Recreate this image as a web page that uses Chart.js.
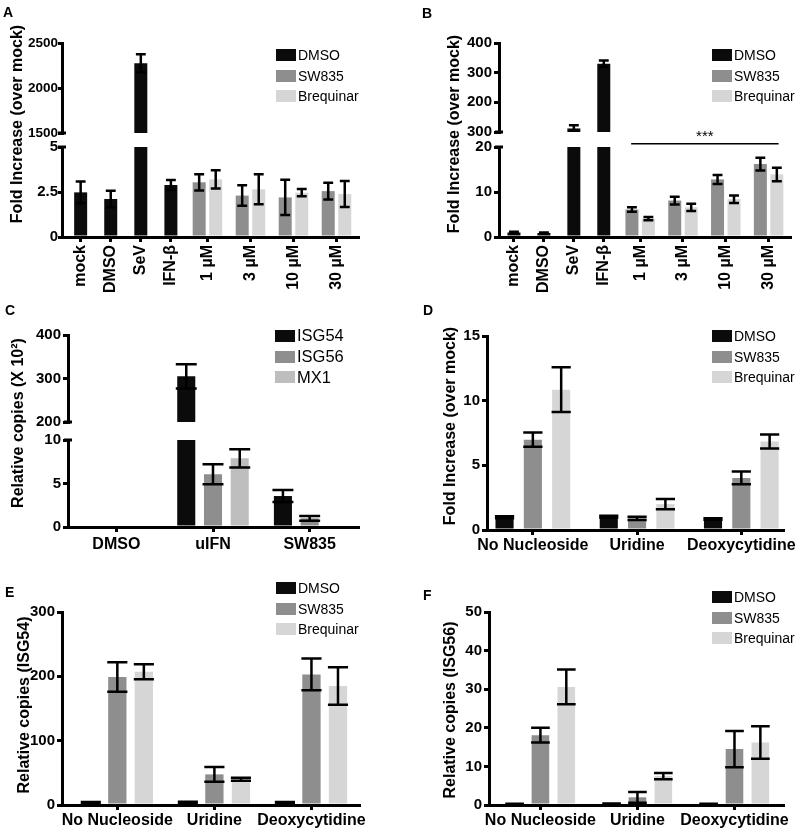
<!DOCTYPE html>
<html>
<head>
<meta charset="utf-8">
<title>Fold increase panels</title>
<script src="https://cdn.jsdelivr.net/npm/chart.js@4.4.1/dist/chart.umd.min.js"></script>
<style>
  html, body { margin: 0; padding: 0; background: #fff; }
  #fig { position: relative; width: 800px; height: 832px; overflow: hidden; background: #fff;
         font-family: 'Liberation Sans', Arial, Helvetica, sans-serif; color: #000; }
  .letter { position: absolute; font-weight: bold; font-size: 14px; line-height: 16px; }
  .ytitle { position: absolute; font-weight: bold; white-space: nowrap; line-height: 1;
            transform: translate(-50%, -50%) rotate(-90deg); }
  .legend { position: absolute; white-space: nowrap; }
  .legend .row { display: flex; align-items: center; }
  .legend .sw { display: inline-block; width: 20px; height: 12px; margin-right: 2px; }
</style>
</head>
<body>
<div id="fig"></div>
<script>
// Category labels
const treatLabels = ['mock', 'DMSO', 'SeV', 'IFN-β', '1 µM', '3 µM', '10 µM', '30 µM'];
const isgLabels = ['DMSO', 'uIFN', 'SW835'];
const nucLabels = ['No Nucleoside', 'Uridine', 'Deoxycytidine'];

// Series names
const drugNames = ['DMSO', 'SW835', 'Brequinar'];
const geneNames = ['ISG54', 'ISG56', 'MX1'];

// Panel A - fold increase (over mock)
const aDmso     = [2.48, 2.11, 2274, 2.89, null, null, null, null];
const aDmsoErr  = [0.6, 0.46, 100, 0.28, null, null, null, null];
const aSw835    = [null, null, null, null, 3.04, 2.3, 2.2, 2.55];
const aSw835Err = [null, null, null, null, 0.45, 0.57, 0.98, 0.47];
const aBreq     = [null, null, null, null, 3.2, 2.65, 2.46, 2.39];
const aBreqErr  = [null, null, null, null, 0.51, 0.83, 0.2, 0.72];

// Panel B - fold increase (over mock)
const bDmso     = [1.0, 0.9, 112, 330, null, null, null, null];
const bDmsoErr  = [0.15, 0.12, 11, 11, null, null, null, null];
const bSw835    = [null, null, null, null, 6.1, 8.1, 12.8, 16.2];
const bSw835Err = [null, null, null, null, 0.5, 0.85, 1.0, 1.4];
const bBreq     = [null, null, null, null, 4.1, 6.6, 8.4, 13.9];
const bBreqErr  = [null, null, null, null, 0.35, 0.8, 0.85, 1.5];
const bTopTickLabels = ['300', '200', '300', '400'];

// Panel C - relative copies (X 10^2)
const cIsg54    = [0, 305, 3.56];
const cIsg54Err = [0, 28, 0.7];
const cIsg56    = [0, 6.06, 1.0];
const cIsg56Err = [0, 1.15, 0.27];
const cMx1      = [0, 7.9, null];
const cMx1Err   = [0, 1.05, null];

// Panel D - fold increase (over mock)
const dDmso     = [0.98, 1.03, 0.85];
const dDmsoErr  = [0.08, 0.07, 0.05];
const dSw835    = [6.98, 0.9, 4.03];
const dSw835Err = [0.55, 0.12, 0.5];
const dBreq     = [10.85, 2.0, 6.85];
const dBreqErr  = [1.73, 0.4, 0.54];

// Panel E - relative copies (ISG54)
const eDmso     = [3.5, 4, 3.5];
const eDmsoErr  = [1, 1, 1];
const eSw835    = [199, 47.6, 203];
const eSw835Err = [23, 11.6, 24.6];
const eBreq     = [207, 40, 185];
const eBreqErr  = [11.6, 2.3, 29];

// Panel F - relative copies (ISG56)
const fDmso     = [0.25, 0.35, 0.25];
const fDmsoErr  = [0.05, 0.05, 0.05];
const fSw835    = [18.1, 2.0, 14.5];
const fSw835Err = [1.9, 1.4, 4.7];
const fBreq     = [30.6, 7.5, 16.2];
const fBreqErr  = [4.5, 0.8, 4.2];

// Colours
const drugColors = ['#0b0b0b', '#8e8e8e', '#d6d6d6'];
const geneColors = ['#0b0b0b', '#8e8e8e', '#bebebe'];

Chart.defaults.font.family = "'Liberation Sans', Arial, Helvetica, sans-serif";
Chart.defaults.color = '#000';

const fig = document.getElementById('fig');

// Category scale where each category can take a different share of the axis
const CategoryBase = Chart.CategoryScale || Chart.registry.getScale('category');
class WeightedCategoryScale extends CategoryBase {
  getPixelForValue(value) {
    if (typeof value !== 'number') value = this.parse(value);
    if (value === null || value === undefined || isNaN(value)) return NaN;
    const o = this.options;
    const n = this.getLabels().length;
    const w = Array.isArray(o.weights) ? o.weights : new Array(n).fill(1);
    const lead = o.lead || 0, trail = o.trail || 0;
    const total = w.reduce((s, v) => s + v, lead + trail);
    const i = Math.min(Math.max(Math.round(value), 0), w.length - 1);
    let pos = lead;
    for (let k = 0; k < i; k++) pos += w[k];
    pos += w[i] * (0.5 + value - i);
    return this.getPixelForDecimal(pos / total);
  }
}
WeightedCategoryScale.id = 'weightedCategory';
WeightedCategoryScale.defaults = CategoryBase.defaults;
Chart.register(WeightedCategoryScale);

// Error bars (mean +/- error), clipped to the plot area
const errorBars = {
  id: 'errorBars',
  afterDatasetsDraw(chart, args, opts) {
    const { ctx, chartArea } = chart;
    const ys = chart.scales.y;
    ctx.save();
    ctx.beginPath();
    ctx.rect(chartArea.left, chartArea.top - 1, chartArea.width, chartArea.height + 1);
    ctx.clip();
    ctx.strokeStyle = '#000';
    ctx.lineWidth = opts.lineWidth || 2.5;
    chart.data.datasets.forEach((ds, di) => {
      if (!ds.errors) return;
      const meta = chart.getDatasetMeta(di);
      meta.data.forEach((bar, i) => {
        const v = ds.data[i], e = ds.errors[i];
        if (v == null || !e) return;
        const yHi = ys.getPixelForValue(v + e);
        const yLo = ys.getPixelForValue(v - e);
        const half = bar.width * (opts.capRatio || 0.4);
        ctx.beginPath();
        ctx.moveTo(bar.x, yHi); ctx.lineTo(bar.x, yLo);
        ctx.moveTo(bar.x - half, yHi); ctx.lineTo(bar.x + half, yHi);
        ctx.moveTo(bar.x - half, yLo); ctx.lineTo(bar.x + half, yLo);
        ctx.stroke();
      });
    });
    ctx.restore();
  }
};

// small mark where the y axis is broken
const axisBreak = {
  id: 'axisBreak',
  afterDraw(chart, args, opts) {
    if (!opts.edge) return;
    const { ctx, chartArea } = chart;
    const y = opts.edge === 'top' ? chartArea.top : chartArea.bottom;
    ctx.save();
    ctx.strokeStyle = '#000';
    ctx.lineWidth = 3;
    ctx.beginPath();
    ctx.moveTo(chartArea.left - 4, y);
    ctx.lineTo(chartArea.left + 4, y);
    ctx.stroke();
    ctx.restore();
  }
};

// significance bar with stars
const sigBar = {
  id: 'sigBar',
  afterDatasetsDraw(chart, args, opts) {
    if (!opts || !opts.text) return;
    const xs = chart.scales.x, ys = chart.scales.y, ctx = chart.ctx;
    const x0 = xs.getPixelForValue(chart.data.labels.indexOf(opts.from)) - opts.padLeft;
    const x1 = xs.getPixelForValue(chart.data.labels.indexOf(opts.to)) + opts.padRight;
    const y = ys.getPixelForValue(opts.level);
    ctx.save();
    ctx.strokeStyle = '#000';
    ctx.lineWidth = 1.5;
    ctx.beginPath();
    ctx.moveTo(x0, y); ctx.lineTo(x1, y);
    ctx.stroke();
    ctx.fillStyle = '#000';
    ctx.font = "15px 'Liberation Sans', Arial, sans-serif";
    ctx.textAlign = 'center';
    ctx.textBaseline = 'alphabetic';
    ctx.fillText(opts.text, (x0 + x1) / 2, y - 3);
    ctx.restore();
  }
};

function series(names, colors, values, errors) {
  return names.map((n, i) => ({ label: n, data: values[i], errors: errors[i], backgroundColor: colors[i] }));
}

// area = plot area in page pixels
function panelChart(area, labels, sets, o) {
  const padT = o.padTop || 12, padR = o.padRight || 8, padB = o.xHeight ? 0 : 10;
  const left = area.l - o.yWidth, top = area.t - padT;
  const width = area.r + padR - left;
  const height = area.b + (o.xHeight || padB) - top;
  const cv = document.createElement('canvas');
  cv.width = width; cv.height = height;
  cv.style.cssText = 'position:absolute;left:' + left + 'px;top:' + top + 'px;width:' + width + 'px;height:' + height + 'px';
  fig.appendChild(cv);

  const yTicks = { stepSize: o.yStep, color: '#000', padding: o.yPad === undefined ? 2 : o.yPad,
                   font: { size: o.yFont || 15, weight: 'bold' },
                   callback: o.yTickLabels ? (v, i) => o.yTickLabels[i] : v => String(v) };

  return new Chart(cv, {
    type: 'bar',
    data: {
      labels: labels,
      datasets: sets.map(s => ({
        label: s.label, data: s.data, errors: s.errors,
        backgroundColor: s.backgroundColor, borderWidth: 0,
        categoryPercentage: o.catPct, barPercentage: o.barPct,
        maxBarThickness: o.maxBar, skipNull: !!o.skipNull, clip: 0
      }))
    },
    options: {
      responsive: false,
      animation: false,
      events: [],
      layout: { padding: { top: padT, right: padR, bottom: padB, left: 0 } },
      plugins: {
        legend: { display: false },
        tooltip: { enabled: false },
        errorBars: { capRatio: o.capRatio, lineWidth: 2.5 },
        axisBreak: { edge: o.breakEdge || null },
        sigBar: o.sig || {}
      },
      scales: {
        x: {
          type: o.xType || 'category',
          weights: o.xWeights, lead: o.xLead || 0, trail: o.xTrail || 0,
          display: !!o.xHeight,
          offset: true,
          grid: { display: true, offset: false, drawOnChartArea: false, tickLength: 5, tickWidth: 3, tickColor: '#000', lineWidth: 3, color: '#000' },
          border: { display: true, color: '#000', width: 3 },
          ticks: { color: '#000', autoSkip: false, padding: o.xPad || 2, maxRotation: o.rotate || 0, minRotation: o.rotate || 0,
                   font: { size: 16, weight: 'bold' } },
          afterFit: s => { s.height = o.xHeight || 0; }
        },
        y: {
          min: o.yMin, max: o.yMax,
          grid: { display: true, drawOnChartArea: false, tickLength: o.yTickLen || 5, tickWidth: 3, tickColor: '#000', lineWidth: 3, color: '#000' },
          border: { display: true, color: '#000', width: 3 },
          ticks: yTicks,
          afterFit: s => { s.width = o.yWidth; }
        }
      }
    },
    plugins: [errorBars, axisBreak, sigBar]
  });
}

function addText(cls, text, x, y, size) {
  const el = document.createElement('div');
  el.className = cls;
  el.textContent = text;
  el.style.left = x + 'px';
  el.style.top = y + 'px';
  if (size) el.style.fontSize = size + 'px';
  fig.appendChild(el);
}

function addLegend(chart, x, boxTop, size, rowH) {
  const el = document.createElement('div');
  el.className = 'legend';
  el.style.left = x + 'px';
  el.style.top = (boxTop - (rowH - 12) / 2) + 'px';
  el.style.fontSize = size + 'px';
  chart.data.datasets.forEach(ds => {
    const row = document.createElement('div');
    row.className = 'row';
    row.style.height = rowH + 'px';
    const sw = document.createElement('span');
    sw.className = 'sw';
    sw.style.background = ds.backgroundColor;
    row.appendChild(sw);
    row.appendChild(document.createTextNode(ds.label));
    el.appendChild(row);
  });
  fig.appendChild(el);
}

// ---- Panel A ----
const aSets = series(drugNames, drugColors, [aDmso, aSw835, aBreq], [aDmsoErr, aSw835Err, aBreqErr]);
const treatAxis = { xType: 'weightedCategory', xWeights: [1, 1, 1, 1, 1.43, 1.43, 1.43, 1.43],
                    catPct: 1.1, barPct: 0.8, maxBar: 13, skipNull: true, capRatio: 0.38 };
const aTop = panelChart({ l: 62, r: 358, t: 43, b: 133 }, treatLabels, aSets,
  Object.assign({}, treatAxis, { xLead: 0.12, yWidth: 46, yFont: 13.5, yPad: 0, yTickLen: 4,
    yMin: 1500, yMax: 2500, yStep: 500, breakEdge: 'bottom' }));
panelChart({ l: 62, r: 358, t: 147, b: 237 }, treatLabels, aSets,
  Object.assign({}, treatAxis, { xLead: 0.12, yWidth: 46, yPad: 0, yTickLen: 4,
    yMin: 0, yMax: 5, yStep: 2.5, xHeight: 60, rotate: 90, xPad: 3, breakEdge: 'top' }));
addLegend(aTop, 276, 49, 14, 20.5);
addText('ytitle', 'Fold Increase (over mock)', 17, 124, 16);
addText('letter', 'A', 3, 4);

// ---- Panel B ----
const bSets = series(drugNames, drugColors, [bDmso, bSw835, bBreq], [bDmsoErr, bSw835Err, bBreqErr]);
const bTop = panelChart({ l: 499, r: 790, t: 43, b: 133 }, treatLabels, bSets,
  Object.assign({}, treatAxis, { yWidth: 44, yMin: 100, yMax: 400, yStep: 100, yTickLabels: bTopTickLabels, breakEdge: 'bottom' }));
panelChart({ l: 499, r: 790, t: 147, b: 237 }, treatLabels, bSets,
  Object.assign({}, treatAxis, { yWidth: 44, padTop: 26, yMin: 0, yMax: 20, yStep: 10, xHeight: 60, rotate: 90, xPad: 3, breakEdge: 'top',
    sig: { text: '***', from: '1 µM', to: '30 µM', level: 20.7, padLeft: 9, padRight: 10 } }));
addLegend(bTop, 712, 49, 14, 20.5);
addText('ytitle', 'Fold Increase (over mock)', 454, 134, 16);
addText('letter', 'B', 422, 5);

// ---- Panel C ----
const cSets = series(geneNames, geneColors, [cIsg54, cIsg56, cMx1], [cIsg54Err, cIsg56Err, cMx1Err]);
const cAxis = { catPct: 0.83, barPct: 0.675, capRatio: 0.58 };
const cTop = panelChart({ l: 68, r: 358, t: 335, b: 423 }, isgLabels, cSets,
  Object.assign({}, cAxis, { yWidth: 44, yMin: 200, yMax: 400, yStep: 100, breakEdge: 'bottom' }));
panelChart({ l: 68, r: 358, t: 440, b: 527 }, isgLabels, cSets,
  Object.assign({}, cAxis, { yWidth: 44, yMin: 0, yMax: 10, yStep: 5, xHeight: 30, xPad: 3, breakEdge: 'top' }));
addLegend(cTop, 275, 330, 16.5, 20.7);
addText('ytitle', 'Relative copies (X 10²)', 18, 423, 16);
addText('letter', 'C', 5, 302);

// ---- Panel D ----
const dSets = series(drugNames, drugColors, [dDmso, dSw835, dBreq], [dDmsoErr, dSw835Err, dBreqErr]);
const dChart = panelChart({ l: 487, r: 783, t: 336, b: 530 }, nucLabels, dSets,
  { xType: 'weightedCategory', xLead: -0.06, xTrail: -0.1, catPct: 0.815, barPct: 0.64, capRatio: 0.53,
    yWidth: 30, padRight: 16, yMin: 0, yMax: 15, yStep: 5, xHeight: 30, xPad: 1 });
addLegend(dChart, 712, 330, 14, 20.7);
addText('ytitle', 'Fold Increase (over mock)', 450, 426, 16);
addText('letter', 'D', 423, 302);

// ---- Panel E ----
const eSets = series(drugNames, drugColors, [eDmso, eSw835, eBreq], [eDmsoErr, eSw835Err, eBreqErr]);
const eChart = panelChart({ l: 62, r: 360, t: 612, b: 805 }, nucLabels, eSets,
  { xType: 'weightedCategory', xLead: 0.07, catPct: 0.82, barPct: 0.69, capRatio: 0.55,
    yWidth: 34, yMin: 0, yMax: 300, yStep: 100, xHeight: 27, xPad: 1 });
addLegend(eChart, 276, 582, 14, 20.7);
addText('ytitle', 'Relative copies (ISG54)', 24, 705, 16);
addText('letter', 'E', 5, 584);

// ---- Panel F ----
const fSets = series(drugNames, drugColors, [fDmso, fSw835, fBreq], [fDmsoErr, fSw835Err, fBreqErr]);
const fChart = panelChart({ l: 489, r: 783, t: 612, b: 805 }, nucLabels, fSets,
  { xType: 'weightedCategory', xLead: 0.03, catPct: 0.8, barPct: 0.68, capRatio: 0.53,
    yWidth: 30, padRight: 16, yMin: 0, yMax: 50, yStep: 10, xHeight: 27, xPad: 1 });
addLegend(fChart, 712, 591, 14, 20.7);
addText('ytitle', 'Relative copies (ISG56)', 450, 710, 16);
addText('letter', 'F', 423, 587);
</script>
</body>
</html>
